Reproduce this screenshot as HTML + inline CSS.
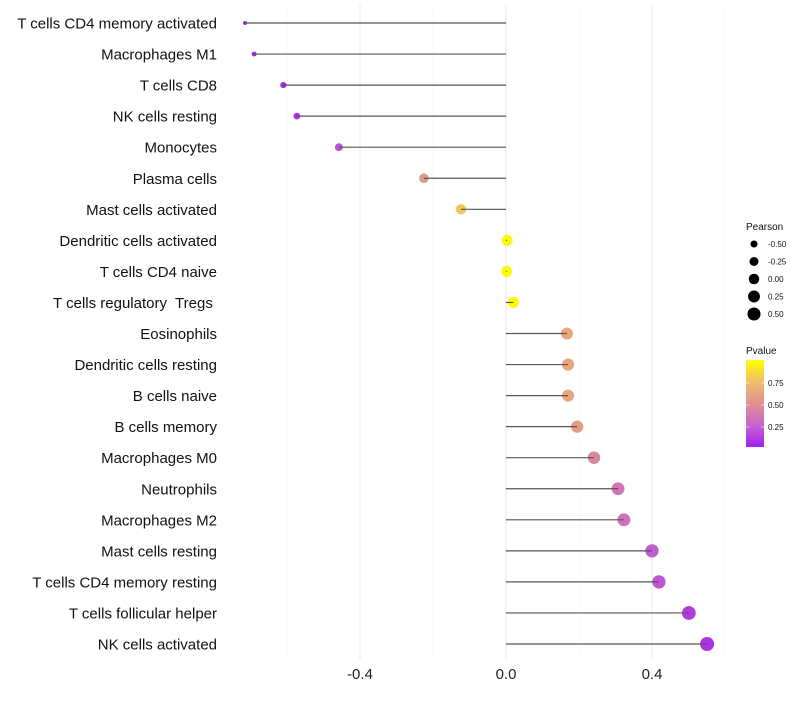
<!DOCTYPE html>
<html><head><meta charset="utf-8"><style>
body{margin:0;background:#fff}
svg text{font-family:"Liberation Sans",sans-serif;white-space:pre}
</style></head><body>
<svg id="c" width="800" height="700">
</svg>
<script>
const categories=["T cells CD4 memory activated","Macrophages M1","T cells CD8","NK cells resting","Monocytes","Plasma cells","Mast cells activated","Dendritic cells activated","T cells CD4 naive","T cells regulatory  Tregs ","Eosinophils","Dendritic cells resting","B cells naive","B cells memory","Macrophages M0","Neutrophils","Macrophages M2","Mast cells resting","T cells CD4 memory resting","T cells follicular helper","NK cells activated"];
const pearson=[-0.715,-0.69,-0.61,-0.573,-0.458,-0.225,-0.123,0.003,0.002,0.02,0.167,0.17,0.17,0.195,0.241,0.307,0.323,0.4,0.419,0.501,0.551];
const pvalue=[0.02,0.03,0.05,0.06,0.18,0.55,0.78,0.99,0.99,0.99,0.62,0.62,0.62,0.56,0.45,0.35,0.33,0.22,0.2,0.1,0.07];
const xTicks=[-0.4,0.0,0.4];
const sizeLegend=[-0.5,-0.25,0,0.25,0.5];
const pTicks=[0.25,0.5,0.75];
const svg=document.getElementById('c');const NS='http://www.w3.org/2000/svg';
function mk(t,a,p){const e=document.createElementNS(NS,t);for(const k in a)e.setAttribute(k,a[k]);(p||svg).appendChild(e);return e;}
const defs=mk('defs',{});const lg=mk('linearGradient',{id:'pg',x1:0,y1:1,x2:0,y2:0},defs);
[[0,'#A020F0'],[0.25,'#C863CF'],[0.5,'#E0908F'],[0.75,'#F0BE6A'],[1,'#FFFF00']].forEach(s=>mk('stop',{offset:s[0],'stop-color':s[1]},lg));
const x=v=>506+v*365;
const y=i=>23+i*31.05;
const r=v=>{const t=Math.max(0,(v+0.715)/1.265);return 2+5*Math.pow(t,0.6);};
const stops=[[0,[160,32,240]],[0.25,[200,99,207]],[0.5,[224,144,143]],[0.75,[240,190,106]],[1,[255,255,0]]];
function col(p){for(let i=1;i<stops.length;i++){if(p<=stops[i][0]){const a=stops[i-1],b=stops[i],t=(p-a[0])/(b[0]-a[0]);return 'rgb('+a[1].map((c,j)=>Math.round(c+(b[1][j]-c)*t)).join(',')+')';}}return 'rgb(255,255,0)';}
for(let g=-0.6;g<=0.61;g+=0.2){const maj=Math.abs(Math.round(g*10))%4===0;const l=mk('line',{x1:x(g),x2:x(g),y1:5,y2:660,stroke:maj?'#ebebeb':'#f4f4f4','stroke-width':maj?1.1:0.6});

}
xTicks.forEach(v=>{const t=mk('text',{x:x(v),y:679,'text-anchor':'middle','font-size':15,fill:'#222'});t.textContent=v.toFixed(1);

});
categories.forEach((c,i)=>{
const t=mk('text',{x:217,y:y(i)+5.5,'text-anchor':'end','font-size':15,fill:'#111'});t.textContent=c;


const d=mk('circle',{cx:x(pearson[i]),cy:y(i),r:r(pearson[i]),fill:col(pvalue[i])});


const l=mk('line',{x1:x(0),x2:x(pearson[i]),y1:y(i),y2:y(i),stroke:'#555','stroke-width':1.2});


});
let tt=mk('text',{x:746,y:230,'font-size':10,fill:'#111'});tt.textContent='Pearson';


sizeLegend.forEach((v,i)=>{const yy=244+i*17.5;
const d=mk('circle',{cx:754,cy:yy,r:r(v)*0.95,fill:'#000'});


const t=mk('text',{x:768,y:yy+3,'font-size':8,fill:'#111'});t.textContent=v.toFixed(2);

});
tt=mk('text',{x:746,y:354,'font-size':10,fill:'#111'});tt.textContent='Pvalue';


const bar=mk('rect',{x:746,y:360,width:18,height:87,fill:'url(#pg)'});


const py=p=>449-p*88;
pTicks.forEach(p=>{mk('line',{x1:746,x2:749,y1:py(p),y2:py(p),stroke:'#fff','stroke-width':0.6});mk('line',{x1:761,x2:764,y1:py(p),y2:py(p),stroke:'#fff','stroke-width':0.6});
const t=mk('text',{x:768,y:py(p)+3,'font-size':8,fill:'#111'});t.textContent=p.toFixed(2);

});
</script>
</body></html>
